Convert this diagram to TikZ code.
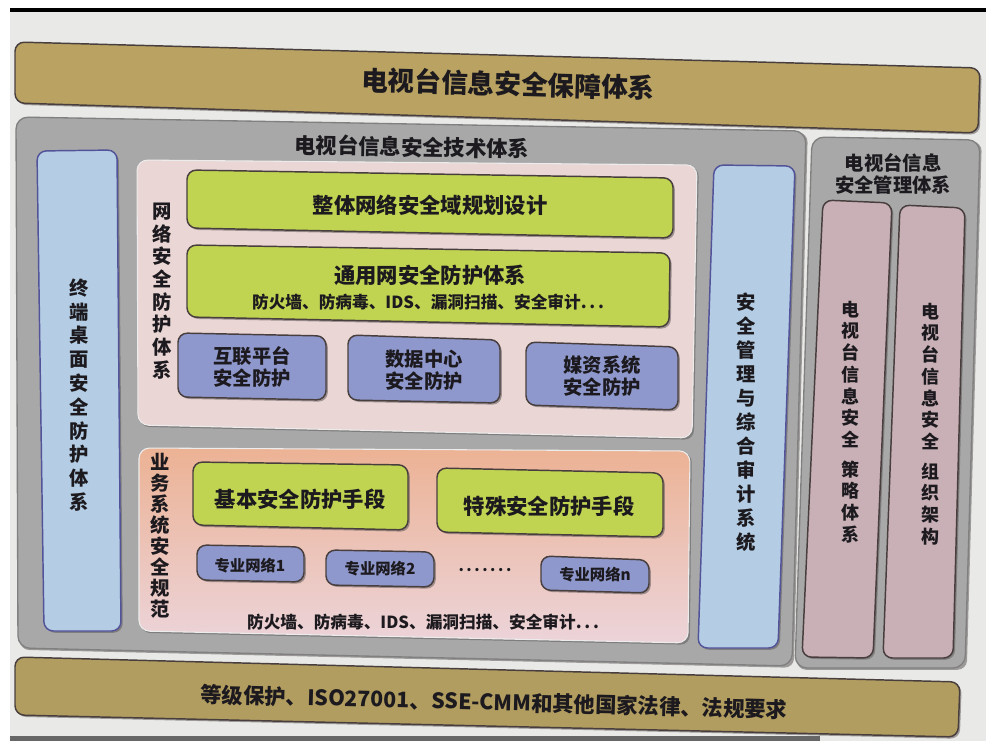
\documentclass[tikz,border=0pt]{standalone}
\usepackage{fontspec}
\setmainfont{Noto Sans CJK SC}
\definecolor{bgc}{RGB}{233,234,231}
\definecolor{khaki}{RGB}{186,163,98}
\definecolor{khakib}{RGB}{178,157,96}
\definecolor{grayc}{RGB}{168,168,168}
\definecolor{lblue}{RGB}{180,205,228}
\definecolor{lpink}{RGB}{234,214,213}
\definecolor{peach}{RGB}{236,178,148}
\definecolor{pinkb}{RGB}{236,212,218}
\definecolor{lgreen}{RGB}{192,212,82}
\definecolor{lavb}{RGB}{143,152,204}
\definecolor{mauve}{RGB}{200,176,182}
\definecolor{edgec}{RGB}{72,62,62}
\definecolor{shadc}{RGB}{95,90,90}
\definecolor{txtc}{RGB}{28,26,30}
\newcommand{\mybox}[5]{%
  \fill[shadc, opacity=0.55, rounded corners=7pt, shift={(1.8,1.8)}] #2 -- #3 -- #4 -- #5 -- cycle;
  \path[#1] #2 -- #3 -- #4 -- #5 -- cycle;}
\begin{document}
\begin{tikzpicture}[x=0.75pt,y=-0.75pt,
  boxedge/.style={draw=edgec, line width=1.1pt, rounded corners=7pt},
  banner/.style={boxedge, fill=khaki},
  bannerb/.style={boxedge, fill=khakib},
  grayp/.style={draw=black!50, line width=1pt, fill=grayc, rounded corners=9pt},
  bluecol/.style={boxedge, draw=black!20!blue!35!gray, fill=lblue},
  netp/.style={draw=white!85!gray, line width=0.8pt, fill=lpink, rounded corners=8pt},
  busp/.style={draw=white!85!gray, line width=0.8pt, top color=peach, bottom color=pinkb, rounded corners=8pt},
  greenb/.style={boxedge, fill=lgreen},
  lavbox/.style={boxedge, fill=lavb},
  mauvec/.style={boxedge, fill=mauve},
  txt/.style={text=txtc, inner sep=0pt, align=center},
  f20/.style={font=\bfseries\fontsize{20}{24}\selectfont},
  f16/.style={font=\bfseries\fontsize{16}{19}\selectfont},
  f15/.style={font=\bfseries\fontsize{14.5}{16.5}\selectfont},
  f12/.style={font=\bfseries\fontsize{12.5}{15}\selectfont},
  f11/.style={font=\bfseries\fontsize{11.5}{14}\selectfont}
]
\useasboundingbox (0,0) rectangle (986,741);
% photo background
\fill[white] (0,0) rectangle (986,741);
\fill[bgc] (10,10) rectangle (986,741);
\draw[black, line width=2.4pt] (10,10) -- (986,10);
\fill[black!60] (10,736) rectangle (820,741);

% top banner
\mybox{banner}{(15,42)}{(980,68)}{(978,133)}{(15,103)}
\node[txt, f20, rotate=-1.6] (t0) at (508,84) {电视台信息安全保障体系};

% technical system outer box
\mybox{grayp}{(16,117)}{(806,131)}{(792,666)}{(18,648)}
\node[txt, f16, rotate=-1] (t1) at (412,147) {电视台信息安全技术体系};

% left blue column
\mybox{bluecol}{(37,151)}{(117,150)}{(121,631)}{(44,631)}
\node[txt, font=\bfseries\fontsize{14.5}{17.85}\selectfont] (t2) at (79,395)
  {终\\端\\桌\\面\\安\\全\\防\\护\\体\\系};

% network security panel
\mybox{netp}{(137,160)}{(697,165)}{(692,438)}{(138,425)}
\node[txt, font=\bfseries\fontsize{14.5}{17}\selectfont] (t3) at (162,291)
  {网\\络\\安\\全\\防\\护\\体\\系};
\mybox{greenb}{(187,170)}{(673,178)}{(673,238)}{(187,228)}
\node[txt, f16] (t4) at (430,205) {整体网络安全域规划设计};
\mybox{greenb}{(187,245)}{(670,253)}{(669,327)}{(187,317)}
\node[txt, f16] (t5) at (430,275) {通用网安全防护体系};
\node[txt, f12] (t6) at (428,302) {防火墙、防病毒、IDS、漏洞扫描、安全审计.\,.\,.};
\mybox{lavbox}{(178,333)}{(326,336)}{(326,400)}{(178,397)}
\node[txt, f15] (t7) at (252,367) {互联平台\\安全防护};
\mybox{lavbox}{(348,335)}{(500,340)}{(500,403)}{(348,400)}
\node[txt, f15] (t8) at (424,370) {数据中心\\安全防护};
\mybox{lavbox}{(526,342)}{(678,347)}{(678,410)}{(526,405)}
\node[txt, f15] (t9) at (602,376) {媒资系统\\安全防护};

% business system panel
\mybox{busp}{(139,448)}{(690,451)}{(688,643)}{(139,631)}
\node[txt, font=\bfseries\fontsize{14.5}{15.8}\selectfont] (t10) at (160,536)
  {业\\务\\系\\统\\安\\全\\规\\范};
\mybox{greenb}{(193,462)}{(408,465)}{(408,530)}{(193,525)}
\node[txt, f16] (t11) at (300,499) {基本安全防护手段};
\mybox{greenb}{(437,468)}{(663,473)}{(663,537)}{(437,532)}
\node[txt, f16] (t12) at (549,506) {特殊安全防护手段};
\mybox{lavbox}{(197,545)}{(304,547)}{(304,582)}{(197,580)}
\node[txt, f11] (t13) at (250,566) {专业网络1};
\mybox{lavbox}{(326,550)}{(434,552)}{(434,587)}{(326,585)}
\node[txt, f11] (t14) at (380,569) {专业网络2};
\node[txt, f11] (t15) at (485,570) {.\,.\,.\,.\,.\,.\,.};
\mybox{lavbox}{(541,556)}{(649,560)}{(649,593)}{(541,590)}
\node[txt, f11] (t16) at (595,575) {专业网络n};
\node[txt, f12] (t17) at (423,622) {防火墙、防病毒、IDS、漏洞扫描、安全审计.\,.\,.};

% right blue column
\mybox{bluecol}{(714,165)}{(795,166)}{(778,648)}{(698,648)}
\node[txt, font=\bfseries\fontsize{14.5}{18}\selectfont] (t18) at (746,422)
  {安\\全\\管\\理\\与\\综\\合\\审\\计\\系\\统};

% management system box
\mybox{grayp}{(812,137)}{(980,140)}{(965,668)}{(795,668)}
\node[txt, font=\bfseries\fontsize{14.5}{16.5}\selectfont] (t19) at (893,174) {电视台信息\\安全管理体系};
\mybox{mauvec}{(823,200)}{(892,203)}{(873,658)}{(802,657)}
\node[txt, font=\bfseries\fontsize{13.5}{16.3}\selectfont] (t20) at (850,422)
  {电\\视\\台\\信\\息\\安\\全\\[6pt]策\\略\\体\\系};
\mybox{mauvec}{(900,205)}{(965,208)}{(953,658)}{(883,658)}
\node[txt, font=\bfseries\fontsize{13.5}{16.3}\selectfont] (t21) at (930,424)
  {电\\视\\台\\信\\息\\安\\全\\[6pt]组\\织\\架\\构};

% bottom banner
\mybox{bannerb}{(15,657)}{(960,682)}{(958,737)}{(15,715)}
\node[txt, f16, rotate=-1.5] (t22) at (494,702) {等级保护、ISO27001、SSE-CMM和其他国家法律、法规要求};
\end{tikzpicture}
\end{document}
